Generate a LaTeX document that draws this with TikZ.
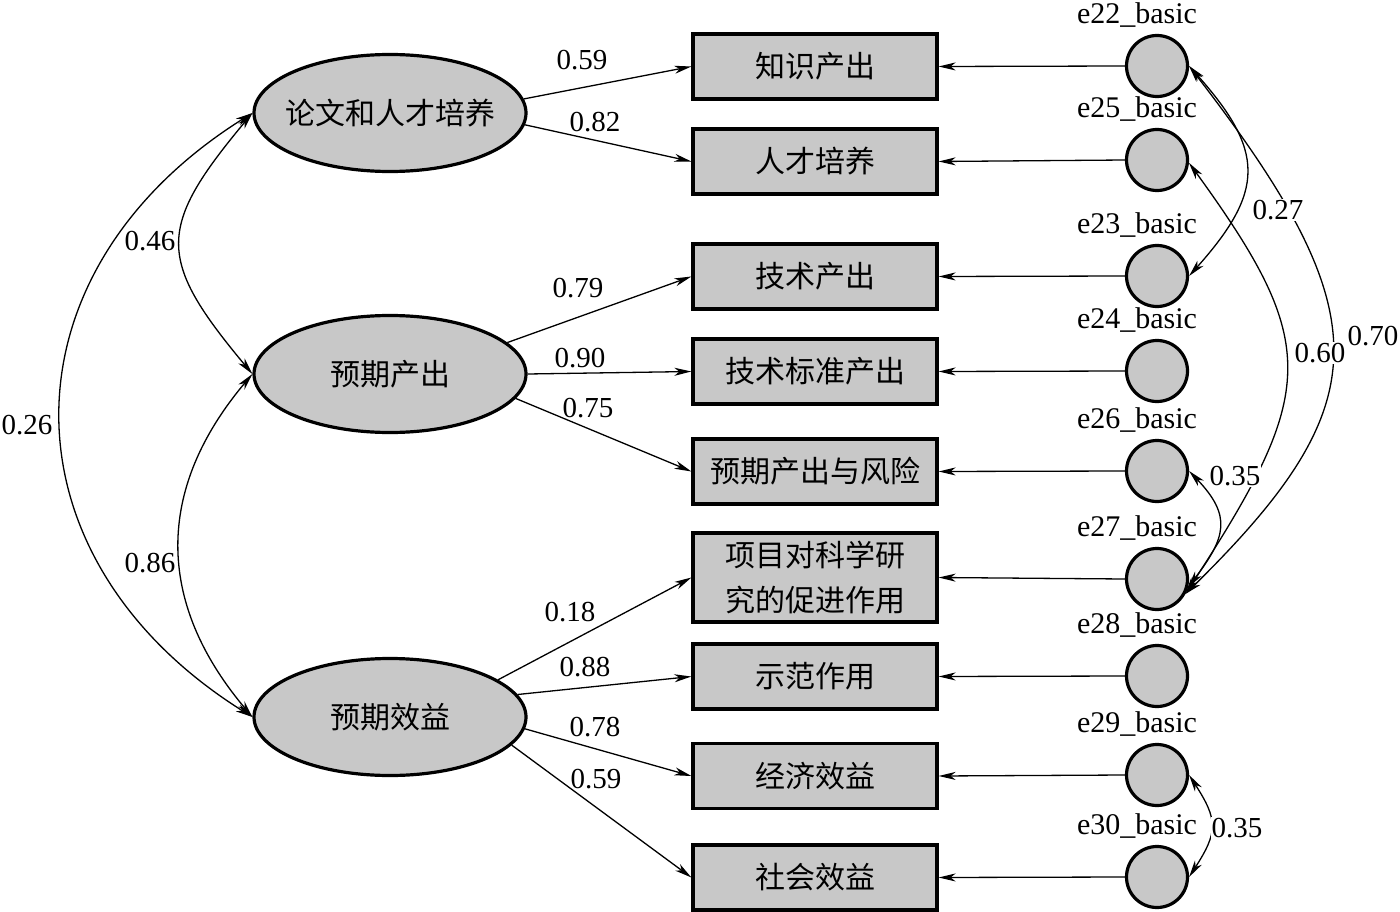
\documentclass[tikz,border=0pt]{standalone}
\usepackage{fontspec}
\setmainfont{Liberation Serif}
\newfontfamily\cjk{Noto Sans CJK SC}
\usetikzlibrary{shapes.geometric,arrows.meta}
\definecolor{boxgray}{RGB}{200,200,200}

\begin{document}
\begin{tikzpicture}[x=1pt, y=-1pt,
	latent/.style={ellipse, draw, line width=3.2pt, fill=boxgray, minimum width=272pt, minimum height=117pt, inner xsep=-12pt, inner ysep=0pt, font=\cjk\fontsize{30}{36}\selectfont},
	obs/.style={rectangle, draw, line width=3.2pt, fill=boxgray, minimum width=244pt, minimum height=65pt, inner sep=0pt, align=center, font=\cjk\fontsize{30}{45}\selectfont},
	err/.style={circle, draw, line width=3.2pt, fill=boxgray, minimum size=61pt, inner sep=0pt},
	errlab/.style={font=\fontsize{30}{32}\selectfont, xshift=-20pt, label distance=3pt},
	coef/.style={inner sep=1pt, font=\fontsize{29}{32}\selectfont},
	covlab/.style={coef, fill=white},
	load/.style={line width=1.3pt, -{Stealth[length=17pt,width=8pt,inset=5pt]}},
	cov/.style={line width=1.3pt, {Stealth[length=17pt,width=8pt,inset=5pt]}-{Stealth[length=17pt,width=8pt,inset=5pt]}}]
	\useasboundingbox (0,0) rectangle (1400,912);

	% latent factors
	\node[latent] (lw) at (390,113) {论文和人才培养};
	\node[latent] (yc) at (390,374) {预期产出};
	\node[latent] (yx) at (390,717) {预期效益};

	% observed indicators
	\node[obs] (zs) at (815,66.5) {知识产出};
	\node[obs] (rc) at (815,161.5) {人才培养};
	\node[obs] (js) at (815,276.5) {技术产出};
	\node[obs] (bz) at (815,371.5) {技术标准产出};
	\node[obs] (fx) at (815,471.5) {预期产出与风险};
	\node[obs, minimum height=89pt] (cj) at (815,577.5) {项目对科学研\\究的促进作用};
	\node[obs] (sf) at (815,676.5) {示范作用};
	\node[obs] (jj) at (815,776) {经济效益};
	\node[obs] (sh) at (815,877.5) {社会效益};

	% error terms
	\node[err, label={[errlab]above:e22\_basic}] (e22) at (1157,66) {};
	\node[err, label={[errlab]above:e25\_basic}] (e25) at (1157,160) {};
	\node[err, label={[errlab]above:e23\_basic}] (e23) at (1157,276) {};
	\node[err, label={[errlab]above:e24\_basic}] (e24) at (1157,371) {};
	\node[err, label={[errlab]above:e26\_basic}] (e26) at (1157,471) {};
	\node[err, label={[errlab]above:e27\_basic}] (e27) at (1157,579) {};
	\node[err, label={[errlab]above:e28\_basic}] (e28) at (1157,676) {};
	\node[err, label={[errlab]above:e29\_basic}] (e29) at (1157,775) {};
	\node[err, label={[errlab]above:e30\_basic}] (e30) at (1157,877) {};

	% loadings
	\draw[load] (lw.6) -- (zs.west);
	\draw[load] (lw.-5) -- (rc.west);
	\draw[load] (yc.15) -- (js.west);
	\draw[load] (yc.east) -- (bz.west);
	\draw[load] (yc.-11) -- (fx.west);
	\draw[load] (yx.19) -- (cj.west);
	\draw[load] (yx.10) -- (sf.west);
	\draw[load] (yx.-5) -- (jj.west);
	\draw[load] (yx.-13) -- (sh.west);

	% errors to indicators
	\foreach \e/\b in {e22/zs, e25/rc, e23/js, e24/bz, e26/fx, e27/cj, e28/sf, e29/jj, e30/sh}
		\draw[load] (\e.west) -- (\b.east);

	% factor covariances
	\draw[cov] (lw.west) .. controls +(-96,115) and +(-96,-115) .. (yc.west);
	\draw[cov] (yc.west) .. controls +(-97,115) and +(-97,-115) .. (yx.west);
	\draw[cov] (lw.west) .. controls +(-255,160) and +(-255,-160) .. (yx.west);

	% error covariances
	\draw[cov] (e22.east) .. controls +(76,85) and +(76,-85) .. (e23.east);
	\draw[cov] (e22.east) .. controls +(193,250) and +(193,-190) .. (e27.-28);
	\draw[cov] (e25.-5) .. controls +(132,182) and +(132,-203) .. (e27.-28);
	\draw[cov] (e26.east) .. controls +(43,45) and +(38,-50) .. (e27.-15);
	\draw[cov] (e29.east) .. controls +(29,45) and +(29,-45) .. (e30.east);

	% coefficients
	\node[coef] (c1) at (582,60) {0.59};
	\node[coef] (c2) at (595,122) {0.82};
	\node[coef] (c3) at (578,288) {0.79};
	\node[coef] (c4) at (580,358) {0.90};
	\node[coef] (c5) at (588,408) {0.75};
	\node[coef] (c6) at (570,612) {0.18};
	\node[coef] (c7) at (585,667) {0.88};
	\node[coef] (c8) at (595,727) {0.78};
	\node[coef] (c9) at (596,779) {0.59};
	\node[coef] (r1) at (150,241) {0.46};
	\node[coef] (r2) at (150,563) {0.86};
	\node[coef] (r3) at (27,425) {0.26};
	\node[covlab] (r4) at (1278,210) {0.27};
	\node[covlab] (r5) at (1320,353) {0.60};
	\node[covlab] (r6) at (1373,336) {0.70};
	\node[covlab] (r7) at (1235,476) {0.35};
	\node[covlab] (r8) at (1237,828) {0.35};
\end{tikzpicture}
\end{document}
